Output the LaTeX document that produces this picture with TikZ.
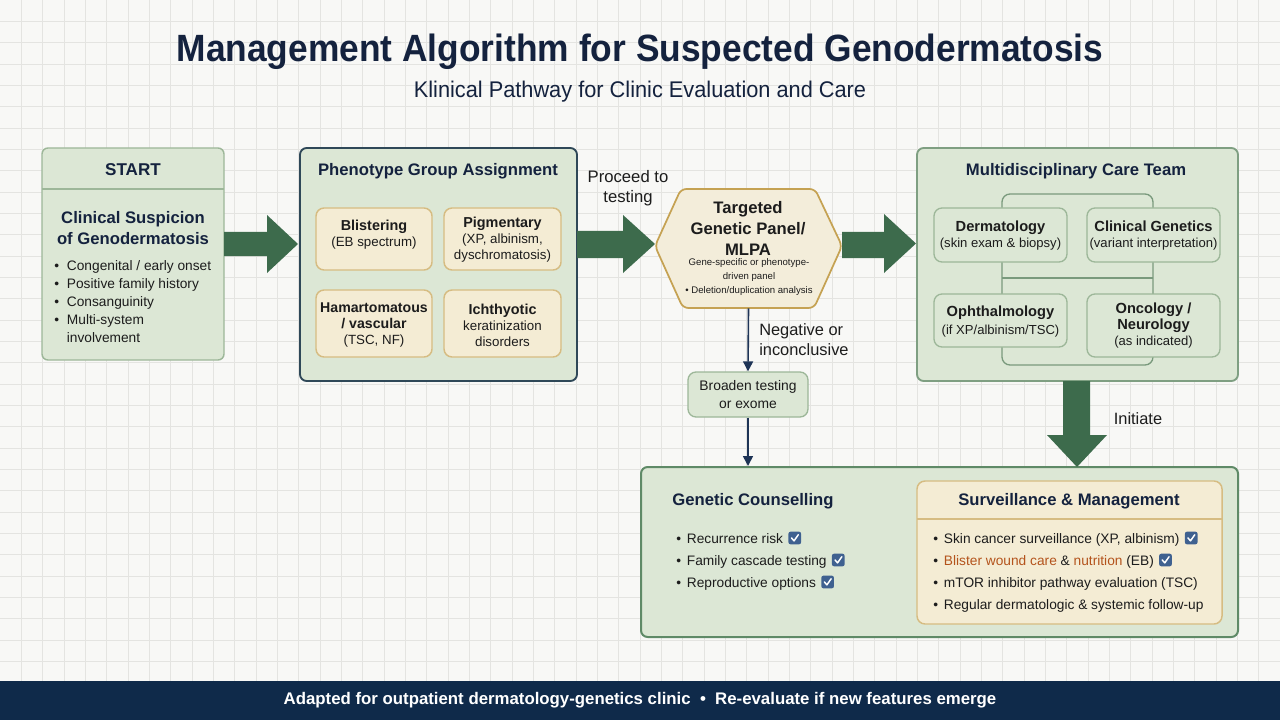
\documentclass[tikz,border=0pt]{standalone}
\usepackage{fontspec}
\setmainfont{Liberation Sans}
\usetikzlibrary{arrows.meta}
\definecolor{bgc}{HTML}{F8F8F6}
\definecolor{gridc}{HTML}{E4E4E1}
\definecolor{navyt}{HTML}{14223E}
\definecolor{bodyt}{HTML}{1C1C1C}
\definecolor{gfill}{HTML}{DCE7D5}
\definecolor{gborder}{HTML}{9DB799}
\definecolor{pborder}{HTML}{2F4858}
\definecolor{mborder}{HTML}{7F9F82}
\definecolor{bborder}{HTML}{5F8A67}
\definecolor{creamc}{HTML}{F4ECD4}
\definecolor{tanc}{HTML}{D6BC82}
\definecolor{hexfill}{HTML}{F3EDDA}
\definecolor{hexborder}{HTML}{C5A253}
\definecolor{arrowg}{HTML}{3D6B4C}
\definecolor{navya}{HTML}{1E3456}
\definecolor{footc}{HTML}{0F2A4A}
\definecolor{chkblue}{HTML}{3F6190}
\definecolor{orangec}{HTML}{B4531C}
\definecolor{linkc}{HTML}{7A9A7D}
\newcommand\fsz[2]{\fontsize{#1}{#2}\selectfont}
\newcommand\bul[1][8pt]{\makebox[#1][l]{\textbullet}}
\newcommand\chk{\hspace{4pt}\tikz[x=1pt,y=1pt,baseline=0pt]{\fill[chkblue,rounded corners=1.6pt] (0,-1) rectangle (9.5,8.5); \draw[white,line width=1.1pt,line cap=round,line join=round] (2.3,3.8) -- (4.2,1.6) -- (7.4,6.2);}}
\tikzset{
  px/.style 2 args={minimum width=#1*0.75pt, minimum height=#2*0.75pt, inner sep=0pt},
  gbox/.style={draw=gborder, fill=gfill, rounded corners=4.5pt, line width=1.1pt},
  pbox/.style={draw=pborder, fill=gfill, rounded corners=5pt, line width=1.4pt},
  mbox/.style={draw=mborder, fill=gfill, rounded corners=5pt, line width=1.4pt},
  bbox/.style={draw=bborder, fill=gfill, rounded corners=5pt, line width=1.5pt},
  sbox/.style={draw=gborder, fill=gfill, rounded corners=6pt, line width=1pt},
  cbox/.style={draw=tanc, fill=creamc, rounded corners=6pt, line width=1.1pt},
  htitle/.style={text=navyt, font=\fsz{12.5}{16}\bfseries, align=center, inner sep=0pt},
  subt/.style={text=bodyt, font=\fsz{10}{12}, align=center, inner sep=0pt},
  body/.style={text=bodyt, font=\fsz{10.3}{13}, inner sep=0pt, anchor=base west},
  lbl/.style={text=bodyt, font=\fsz{12.3}{14.5}, inner sep=0pt},
  fat/.style={fill=arrowg, draw=none},
  narrow/.style={draw=navya, line width=1.2pt, -{Triangle[length=7.5pt,width=7.5pt]}},
  linkline/.style={draw=linkc, line width=1pt, rounded corners=6pt}
}
\begin{document}
\begin{tikzpicture}[x=0.75pt,y=-0.75pt]
\useasboundingbox (0,0) rectangle (1280,720);
\fill[bgc] (0,0) rectangle (1280,720);
\foreach \i in {1,...,59} \draw[gridc, line width=0.7pt] ({\i*21.333},0) -- ({\i*21.333},720);
\foreach \j in {1,...,33} \draw[gridc, line width=0.7pt] (0,{\j*21.333}) -- (1280,{\j*21.333});

% title
\node[text=navyt, font=\fsz{28.5}{32}\bfseries, inner sep=0pt] (title) at (640,52) {\scalebox{0.93}[1]{Management Algorithm for Suspected Genodermatosis}};
\node[text=navyt, font=\fsz{17}{20}, inner sep=0pt] (subtitle) at (640,92) {\scalebox{0.96}[1]{Klinical Pathway for Clinic Evaluation and Care}};

% footer
\fill[footc] (0,681) rectangle (1280,720);
\node[text=white, font=\fsz{12.6}{15}\bfseries, inner sep=0pt] (foot) at (640,700) {Adapted for outpatient dermatology-genetics clinic \ \textbullet\ \ Re-evaluate if new features emerge};

% START
\node[gbox, px={182}{212}] (start) at (133,254) {};
\draw[gborder, line width=1.1pt] (42,189) -- (224,189);
\node[htitle, font=\fsz{12.8}{15}\bfseries] (startt) at (133,170) {START};
\node[htitle, font=\fsz{12.5}{15.75}\bfseries] (clin) at (133,228) {Clinical Suspicion\\of Genodermatosis};
\node[body] (s1) at (54,270.5) {\bul[9.5pt]Congenital / early onset};
\node[body] (s2) at (54,288.5) {\bul[9.5pt]Positive family history};
\node[body] (s3) at (54,306.5) {\bul[9.5pt]Consanguinity};
\node[body] (s4) at (54,324.5) {\bul[9.5pt]Multi-system};
\node[body] (s5) at (54,342.5) {\hspace*{9.5pt}involvement};

% Phenotype group
\node[pbox, px={277}{233}] (pheno) at (438.5,264.5) {};
\node[htitle] (phenot) at (438,171) {Phenotype Group Assignment};
\node[cbox, px={116}{62}] (b1) at (374,239) {};
\node[cbox, px={117}{62}] (b2) at (502.5,239) {};
\node[cbox, px={116}{67}] (b3) at (374,323.5) {};
\node[cbox, px={117}{67}] (b4) at (502.5,323.5) {};
\node[subt] (b1t) at (374,235) {{\fsz{10.8}{12}\bfseries Blistering}\\(EB spectrum)};
\node[subt] (b2t) at (502.5,240) {{\fsz{10.8}{12}\bfseries Pigmentary}\\(XP, albinism,\\dyschromatosis)};
\node[subt] (b3t) at (374,325) {{\fsz{10.6}{12}\bfseries Hamartomatous}\\{\fsz{10.6}{12}\bfseries / vascular}\\(TSC, NF)};
\node[subt] (b4t) at (502.5,325) {{\fsz{10.8}{12}\bfseries Ichthyotic}\\keratinization\\disorders};

% fat arrow 1
\fill[fat] (224,232) -- (267,232) -- (267,215) -- (298,244) -- (267,273) -- (267,256) -- (224,256) -- cycle;

% fat arrow 2
\fill[fat] (577,231) -- (623,231) -- (623,215) -- (655,244) -- (623,273) -- (623,258) -- (577,258) -- cycle;
\node[lbl, align=center, font=\fsz{12.5}{15}] (proceed) at (628,188) {Proceed to\\testing};

% hexagon
\node[px={187}{119}] (hex) at (748.5,248.5) {};
\filldraw[fill=hexfill, draw=hexborder, line width=1.3pt, rounded corners=4pt] (655,246) -- (681,189) -- (815,189) -- (842,246) -- (814,308) -- (683,308) -- cycle;
\node[htitle, text=bodyt, font=\fsz{12.5}{16}\bfseries] (hext) at (748,228.5) {Targeted\\Genetic Panel/\\MLPA};
\node[subt, font=\fsz{7.2}{10.5}] (hexs) at (749,277.5) {Gene-specific or phenotype-\\driven panel\\\textbullet\ Deletion/duplication analysis};

% fat arrow 3
\fill[fat] (842,232) -- (884,232) -- (884,214) -- (916,243.5) -- (884,273) -- (884,258) -- (842,258) -- cycle;

% negative branch
\node[sbox, px={120}{45}] (broaden) at (748,394.5) {};
\node[subt, font=\fsz{10.4}{13.5}] (broadent) at (748,395) {Broaden testing\\or exome};
\draw[narrow] (hex.south) -- (broaden.north);
\node[lbl, align=left, anchor=west] (neg) at (759,339.5) {Negative or\\inconclusive};

% MDT
\node[mbox, px={321}{233}] (mdt) at (1077.5,264.5) {};
\node[htitle] (mdtt) at (1076,171) {Multidisciplinary Care Team};
\draw[linkline] (1002,194) rectangle (1153,365);
\draw[linkline] (1002,278) -- (1153,278);
\node[sbox, px={133}{54}] (m1) at (1000.5,235) {};
\node[sbox, px={133}{54}] (m2) at (1153.5,235) {};
\node[sbox, px={133}{53}] (m3) at (1000.5,320.5) {};
\node[sbox, px={133}{63}] (m4) at (1153.5,325.5) {};
\node[subt, font=\fsz{9.8}{12}] (m1t) at (1000.5,235.5) {{\fsz{11}{12}\bfseries Dermatology}\\(skin exam \& biopsy)};
\node[subt, font=\fsz{9.8}{12}] (m2t) at (1153.5,235.5) {{\fsz{11}{12}\bfseries Clinical Genetics}\\(variant interpretation)};
\node[subt, font=\fsz{9.8}{13}] (m3t) at (1000.5,321.5) {{\fsz{11}{13}\bfseries Ophthalmology}\\(if XP/albinism/TSC)};
\node[subt, font=\fsz{9.8}{12}] (m4t) at (1153.5,325.5) {{\fsz{11}{12}\bfseries Oncology /}\\{\fsz{11}{12}\bfseries Neurology}\\(as indicated)};

% bottom box
\node[bbox, px={597}{170}] (bottom) at (939.5,552) {};
\draw[narrow] (broaden.south) -- (bottom.north -| broaden.south);
\fill[fat] (1063,381) -- (1090,381) -- (1090,435) -- (1107,435) -- (1077,467) -- (1047,435) -- (1063,435) -- cycle;
\node[lbl] (init) at (1138,419) {Initiate};

\node[htitle] (gct) at (753,501) {Genetic Counselling};
\node[body] (g1) at (676,543) {\bul Recurrence risk\chk};
\node[body] (g2) at (676,565) {\bul Family cascade testing\chk};
\node[body] (g3) at (676,587) {\bul Reproductive options\chk};

\node[cbox, px={305}{143}] (surv) at (1069.5,552.5) {};
\draw[tanc, line width=1.1pt] (917,519) -- (1222,519);
\node[htitle] (survt) at (1069,501) {Surveillance \& Management};
\node[body] (v1) at (933,543) {\bul Skin cancer surveillance (XP, albinism)\chk};
\node[body] (v2) at (933,565) {\bul\textcolor{orangec}{Blister wound care} \& \textcolor{orangec}{nutrition} (EB)\chk};
\node[body] (v3) at (933,587) {\bul mTOR inhibitor pathway evaluation (TSC)};
\node[body] (v4) at (933,609) {\bul Regular dermatologic \& systemic follow-up};
\end{tikzpicture}
\end{document}
